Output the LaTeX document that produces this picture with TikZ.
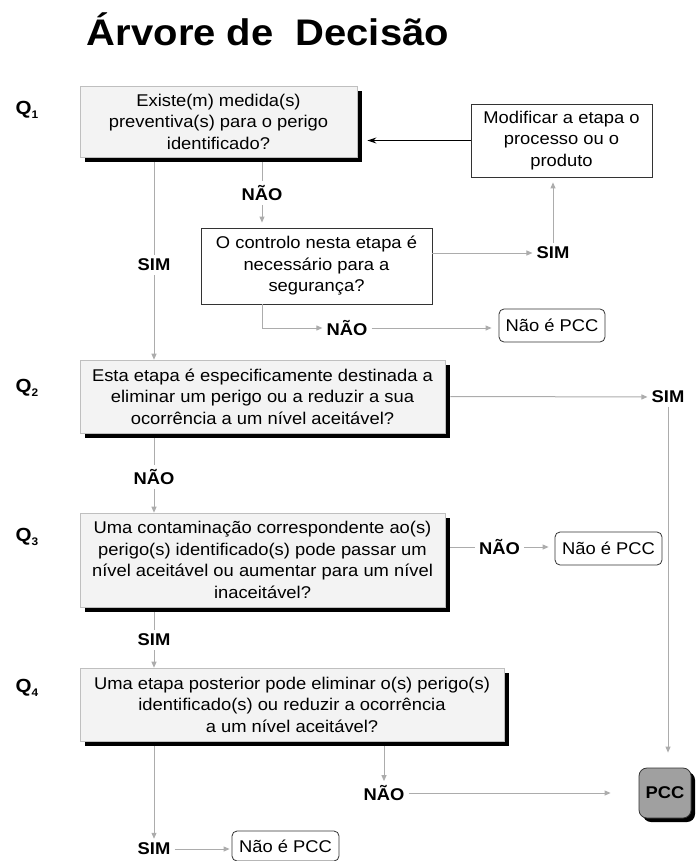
\documentclass[tikz,border=0pt]{standalone}
\usepackage{fontspec}
\setmainfont{Liberation Sans}[FakeStretch=1.08]
\usetikzlibrary{arrows.meta,shadows}
\definecolor{linkgray}{RGB}{172,172,172}
\definecolor{qfill}{RGB}{243,243,243}
\definecolor{pccgray}{RGB}{160,160,160}
\newcommand\bxfont{\fontsize{17}{21.5}\selectfont}
\newcommand\qlabel[1]{Q\raisebox{-.4ex}{\fontsize{11}{11}\selectfont #1}}
\tikzset{
  qbox/.style={draw=gray!50, line width=.6pt, fill=qfill, align=center, font=\bxfont, inner sep=0pt,
    drop shadow={shadow xshift=5pt, shadow yshift=-5pt, fill=black, opacity=1}},
  plainbox/.style={draw=black!80, line width=.8pt, fill=white, align=center, font=\bxfont, inner sep=0pt},
  npcc/.style={plainbox, rounded corners=5pt},
  lbl/.style={font=\fontsize{17}{17}\selectfont\bfseries, inner sep=4pt},
  qlab/.style={font=\fontsize{19}{19}\selectfont\bfseries, inner sep=0pt},
  link/.style={draw=linkgray, line width=1pt}
}
\begin{document}
\begin{tikzpicture}[x=1pt, y=-1pt, >={Triangle[length=6pt,width=5pt]}]
\useasboundingbox (0,0) rectangle (696,861);
\node[font=\fontsize{37}{40}\selectfont\bfseries, anchor=base] (title) at (268,46) {Árvore de\ \ Decisão};

% perguntas
\node[qlab] (qlab1) at (27,110) {\qlabel{1}};
\node[qlab] (qlab2) at (27,388) {\qlabel{2}};
\node[qlab] (qlab3) at (27,537) {\qlabel{3}};
\node[qlab] (qlab4) at (27,688) {\qlabel{4}};
\node[qbox, minimum width=277, minimum height=71] (q1) at (218.5,121.5) {Existe(m) medida(s)\\ preventiva(s) para o perigo\\ identificado?};
\node[qbox, minimum width=365, minimum height=73] (q2) at (262.5,396.5) {Esta etapa é especificamente destinada a\\ eliminar um perigo ou a reduzir a sua\\ ocorrência a um nível aceitável?};
\node[qbox, minimum width=365, minimum height=94] (q3) at (262.5,560) {Uma contaminação correspondente ao(s)\\ perigo(s) identificado(s) pode passar um\\ nível aceitável ou aumentar para um nível\\ inaceitável?};
\node[qbox, minimum width=424, minimum height=73] (q4) at (292,704.5) {Uma etapa posterior pode eliminar o(s) perigo(s)\\ identificado(s) ou reduzir a ocorrência\\ a um nível aceitável?};
\node[plainbox, minimum width=231, minimum height=76] (ctrl) at (316.5,266) {O controlo nesta etapa é\\ necessário para a\\ segurança?};
\node[plainbox, minimum width=181, minimum height=73] (modif) at (561.5,140.5) {Modificar a etapa o\\ processo ou o\\ produto};
\node[npcc, minimum width=106, minimum height=33] (npcc1) at (552,325.5) {Não é PCC};
\node[npcc, minimum width=107, minimum height=33] (npcc2) at (608.5,548.5) {Não é PCC};
\node[npcc, minimum width=107, minimum height=30] (npcc3) at (285.5,846) {Não é PCC};
\node[draw=black!80, line width=.8pt, fill=pccgray, rounded corners=8pt, minimum width=52, minimum height=50,
  font=\fontsize{17}{17}\selectfont\bfseries,
  drop shadow={shadow xshift=4pt, shadow yshift=-4pt, fill=black, opacity=1}] (pcc) at (665,793) {PCC};

% respostas
\node[lbl] (naoa) at (262,193) {NÃO};
\node[lbl] (sima) at (154,265) {SIM};
\node[lbl] (simb) at (553,253) {SIM};
\node[lbl] (naoc) at (347,328) {NÃO};
\node[lbl] (simc) at (668,397) {SIM};
\node[lbl] (naob) at (154,477) {NÃO};
\node[lbl] (naod) at (499.5,547) {NÃO};
\node[lbl] (simd) at (154,640) {SIM};
\node[lbl] (naoe) at (384,793) {NÃO};
\node[lbl] (sime) at (154,849) {SIM};

% ligacoes
\draw[link, shorten <=5pt] (q1.south -| naoa) -- (naoa);
\draw[link, ->, shorten >=5pt] (naoa) -- (naoa |- ctrl.north);
\draw[link, ->] (ctrl.east |- simb) -- (simb);
\draw[link, ->, shorten >=5pt] (simb) -- (simb |- modif.south);
\draw[->, line width=1pt, shorten >=10pt, >={Stealth[length=9pt,width=6pt]}] (modif.west) -- (modif.west -| q1.east);
\draw[link, ->] (ctrl.south -| naoa) |- (naoc);
\draw[link, ->, shorten >=7pt] (naoc) -- (naoc -| npcc1.west);
\draw[link, shorten <=5pt] (q1.south -| sima) -- (sima);
\draw[link, ->] (sima) -- (sima |- q2.north);
\draw[link, ->, shorten <=5pt] (q2.east) -- (simc);
\draw[link, ->, shorten >=15pt] (simc) -- (simc |- pcc.north);
\draw[link, shorten <=5pt] (q2.south -| naob) -- (naob);
\draw[link, ->] (naob) -- (naob |- q3.north);
\draw[link, shorten <=5pt] (q3.east |- naod) -- (naod);
\draw[link, ->, shorten >=6pt] (naod) -- (naod -| npcc2.west);
\draw[link, shorten <=5pt] (q3.south -| simd) -- (simd);
\draw[link, ->] (simd) -- (simd |- q4.north);
\draw[link, ->, shorten <=5pt] (q4.south -| naoe) -- (naoe);
\draw[link, ->, shorten >=28pt] (naoe) -- (pcc);
\draw[link, ->, shorten <=5pt] (q4.south -| sime) -- (sime);
\draw[link, ->, shorten >=2pt] (sime) -- (sime -| npcc3.west);
\end{tikzpicture}
\end{document}
